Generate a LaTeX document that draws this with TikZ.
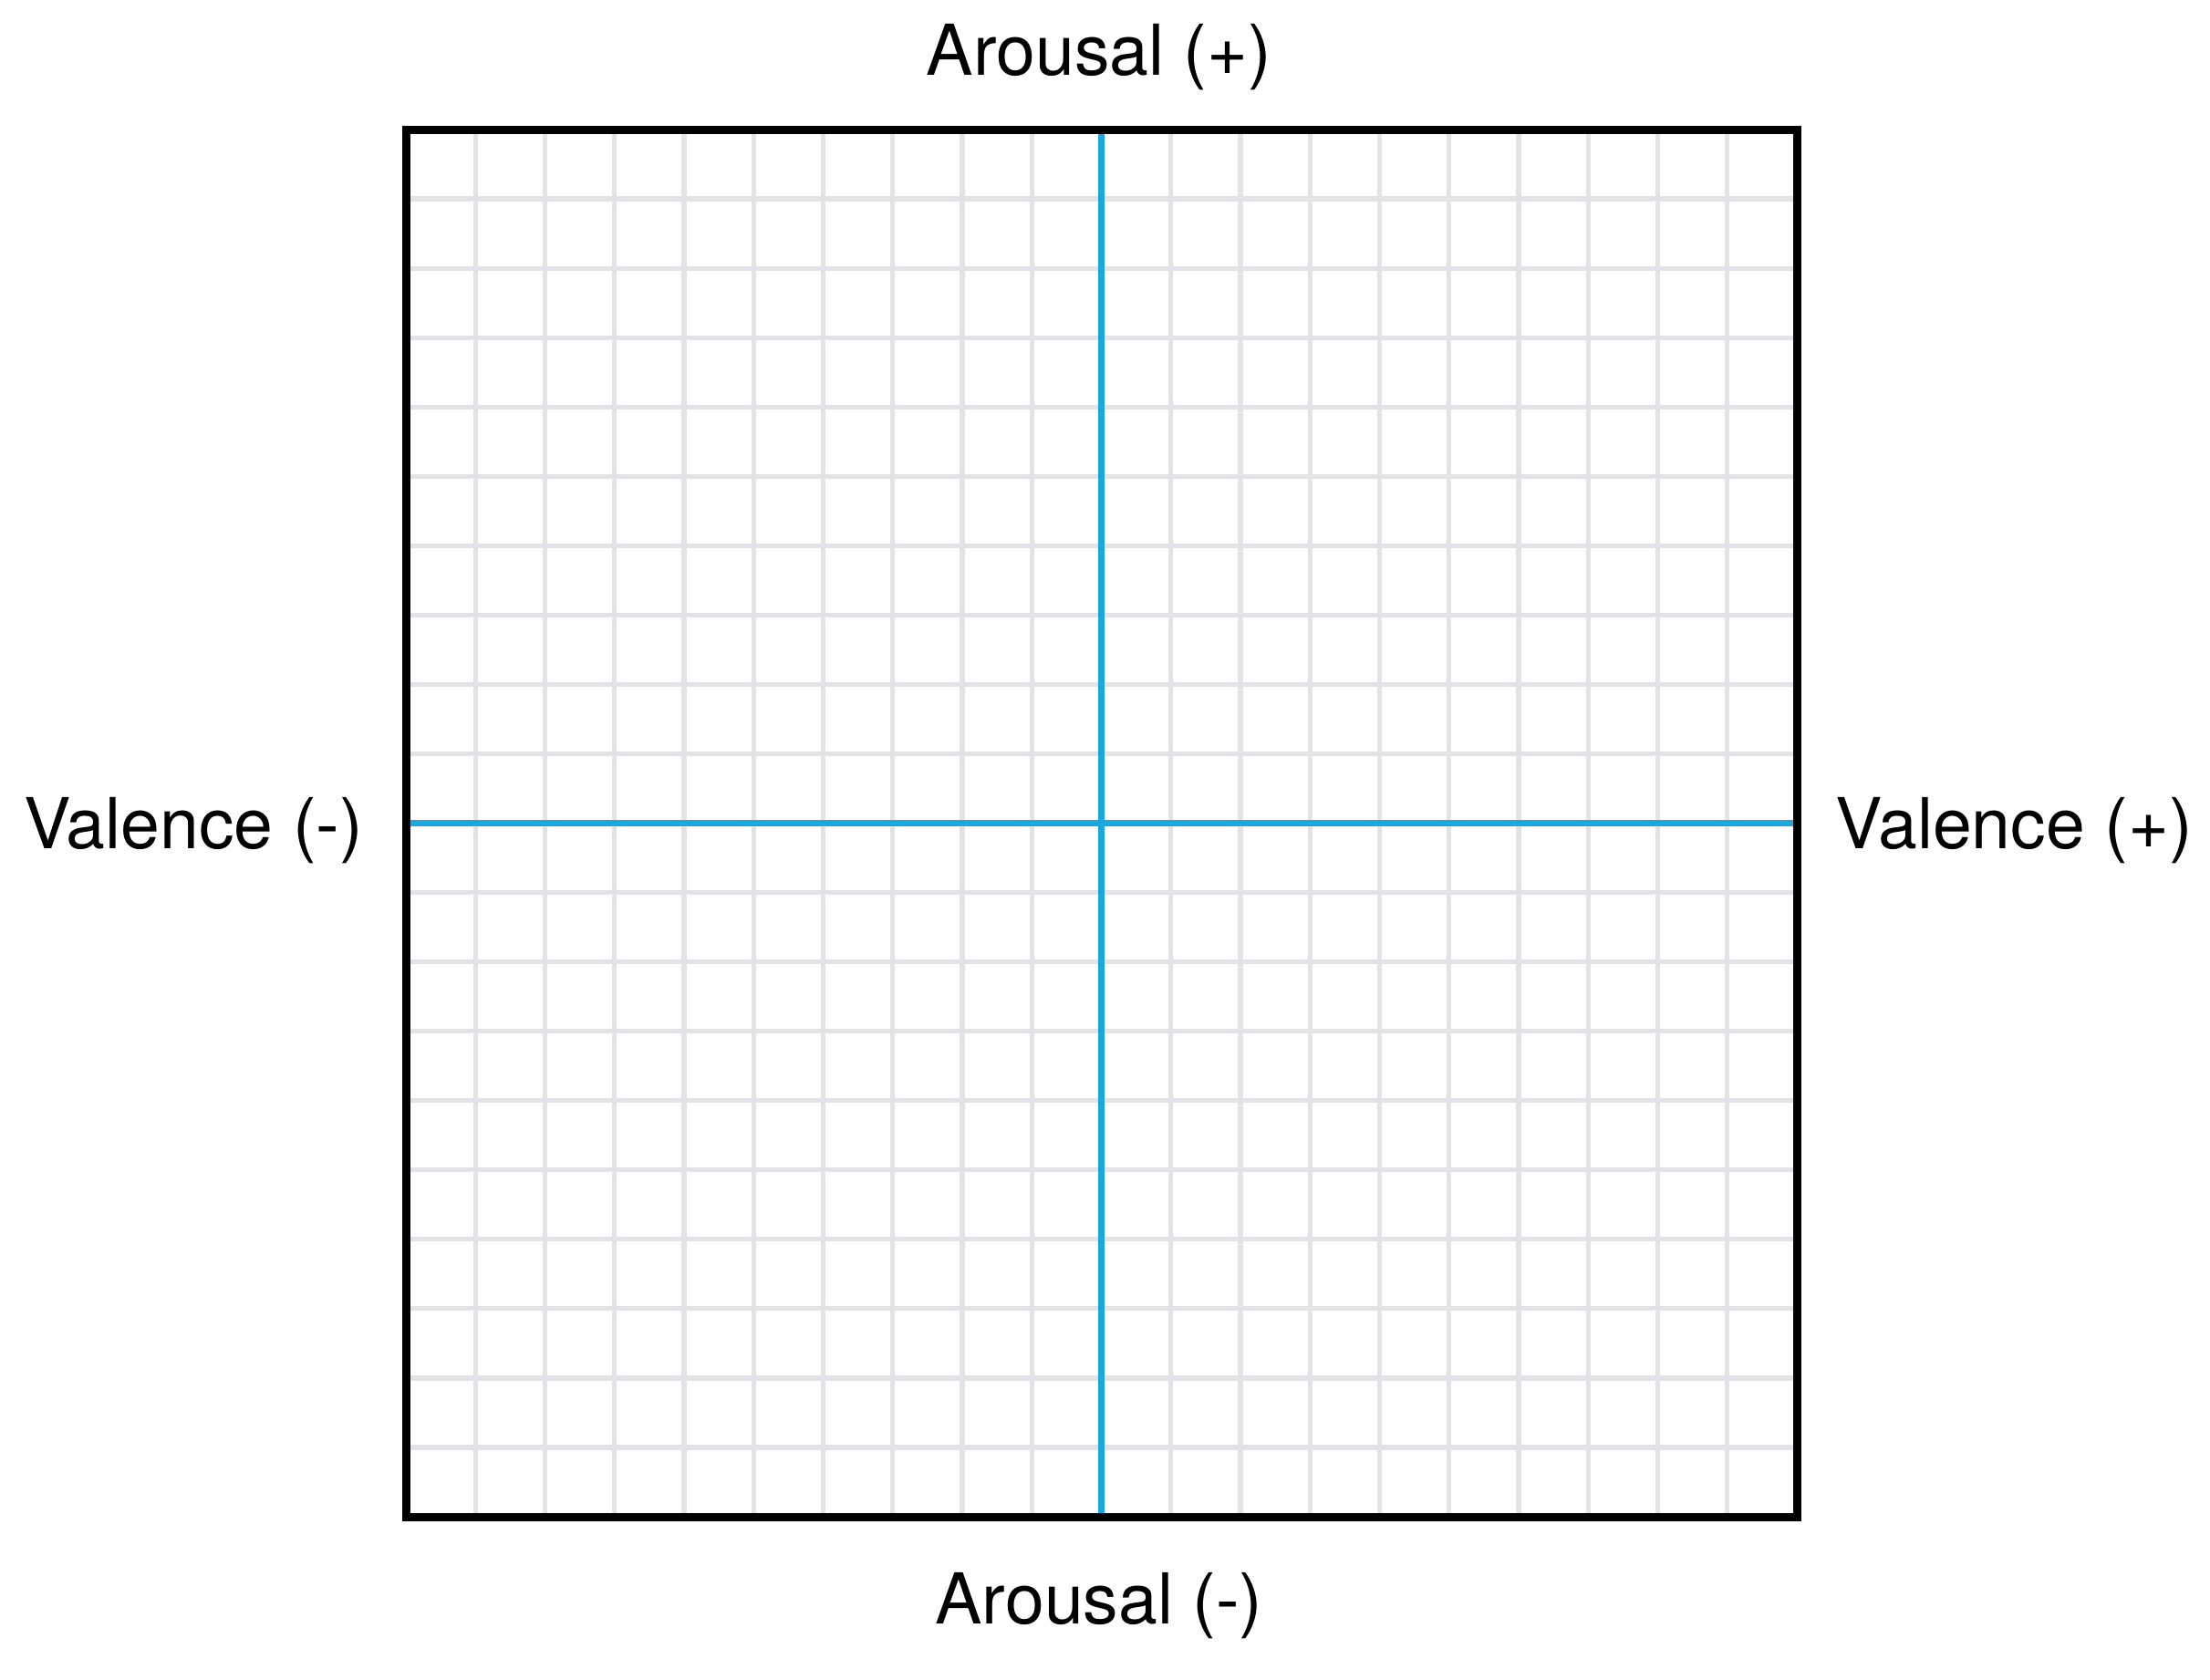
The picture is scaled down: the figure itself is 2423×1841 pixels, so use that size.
\documentclass[tikz,border=0pt]{standalone}
\usepackage{fontspec}
\setmainfont{TeX Gyre Heros}
\definecolor{gridgray}{HTML}{E3E3E7}
\definecolor{axisblue}{HTML}{1BA7E0}
\begin{document}
\begin{tikzpicture}[x=0.5pt,y=-0.5pt,
  gridline/.style={draw=gridgray,line width=2.6pt},
  axisline/.style={draw=axisblue,line width=3.5pt},
  frameline/.style={draw=black,line width=4.5pt},
  lbl/.style={font=\fontsize{38.5}{44}\selectfont,inner sep=0pt,anchor=base}]
\useasboundingbox (0,0) rectangle (2423,1841);
\fill[white] (0,0) rectangle (2423,1841);
% grid
\foreach \k in {1,...,19}{
  \draw[gridline] ({445+\k*76.25},146) -- ({445+\k*76.25},1659);
  \draw[gridline] (449,{142+\k*76.05}) -- (1966,{142+\k*76.05});
}
% axes
\draw[axisline] (1207.5,146) -- (1207.5,1659);
\draw[axisline] (449,902.5) -- (1966,902.5);
% frame
\draw[frameline] (445,142) rectangle (1970,1663);
% labels
\node[lbl] (top) at (1205,83) {Arousal (+)};
\node[lbl] (bottom) at (1205,1780) {Arousal (-)};
\node[lbl] (left) at (212,930) {Valence (-)};
\node[lbl] (right) at (2208,930) {Valence (+)};
\end{tikzpicture}
\end{document}
